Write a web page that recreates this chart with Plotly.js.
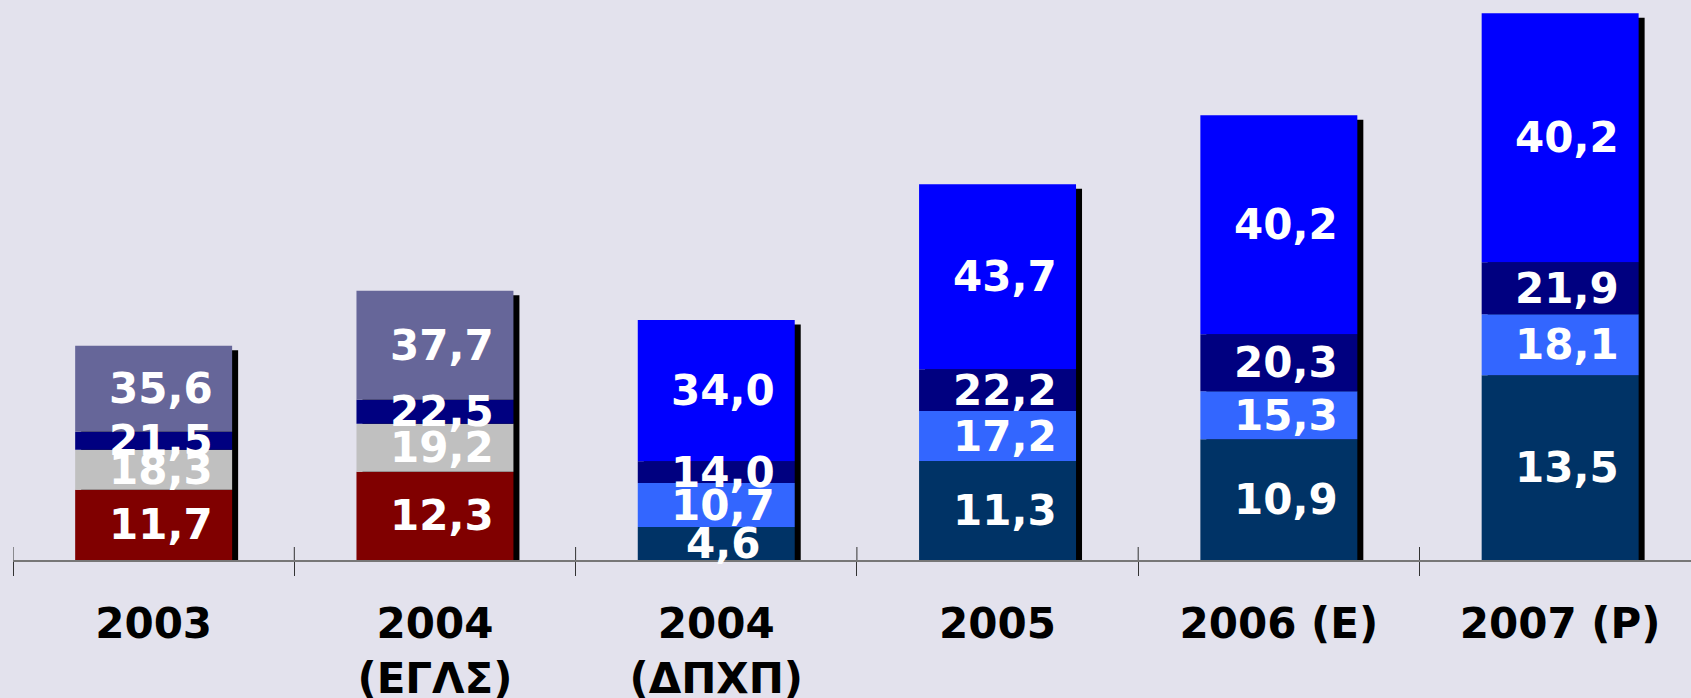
<!DOCTYPE html>
<html>
<head>
<meta charset="utf-8">
<script src="https://cdn.plot.ly/plotly-3.0.1.min.js"></script>
<style>html,body{margin:0;padding:0;background:#E3E2ED;}</style>
</head>
<body>
<div id="chart" style="width:1691px;height:698px;"></div>
<script>
// Categories (x-axis tick labels)
const categories = ["2003", "2004<br>(ΕΓΛΣ)", "2004<br>(ΔΠΧΠ)", "2005", "2006 (E)", "2007 (P)"];

// Segment heights (bottom to top)
const seg1 = [70.3, 88.3, 33.0, 99.0, 120.7, 184.7];
const seg2 = [40.0, 48.0, 44.0, 50.0, 48.0, 61.0];
const seg3 = [18.0, 24.0, 21.7, 41.7, 57.0, 52.0];
const seg4 = [86.0, 109.0, 141.3, 185.0, 219.0, 249.0];

// Labels shown on the segments
const lab1 = ["11,7", "12,3", "4,6", "11,3", "10,9", "13,5"];
const lab2 = ["18,3", "19,2", "10,7", "17,2", "15,3", "18,1"];
const lab3 = ["21,5", "22,5", "14,0", "22,2", "20,3", "21,9"];
const lab4 = ["35,6", "37,7", "34,0", "43,7", "40,2", "40,2"];

// Segment colours per bar
const col1 = ["#800000", "#800000", "#003366", "#003366", "#003366", "#003366"];
const col2 = ["#C0C0C0", "#C0C0C0", "#3366FF", "#3366FF", "#3366FF", "#3366FF"];
const col3 = ["#000080", "#000080", "#000080", "#000080", "#000080", "#000080"];
const col4 = ["#666699", "#666699", "#0000FF", "#0000FF", "#0000FF", "#0000FF"];

const segs = [seg1, seg2, seg3, seg4];
const labs = [lab1, lab2, lab3, lab4];
const cols = [col1, col2, col3, col4];

const BW = 0.558;
const catPx = 281.3;
const shadowDx = 6 / catPx;
const shadowDy = 4.5;

const totals = categories.map((c, i) => segs.reduce((s, a) => s + a[i], 0));

const traces = [];
// shadow
traces.push({
  type: "bar", x: categories, y: totals, base: categories.map(() => -shadowDy),
  width: BW, offset: -BW / 2 + shadowDx,
  marker: {color: "#000000", line: {width: 0}},
  hoverinfo: "skip", showlegend: false
});

const annotations = [];
let bases = categories.map(() => 0);
segs.forEach((s, k) => {
  traces.push({
    type: "bar", x: categories, y: s, base: bases.slice(),
    width: BW, offset: -BW / 2,
    marker: {color: cols[k], line: {width: 0}},
    hoverinfo: "skip", showlegend: false
  });
  categories.forEach((c, i) => {
    annotations.push({
      x: i, y: bases[i] + s[i] / 2, xref: "x", yref: "y",
      text: labs[k][i], showarrow: false, xshift: 7,
      font: {family: "DejaVu Sans", size: 42, color: "#FFFFFF", weight: "bold"}
    });
  });
  bases = bases.map((b, i) => b + s[i]);
});

const shapes = [];
for (let i = 0; i < categories.length; i++) {
  shapes.push({type: "line", xref: "x", yref: "y", x0: i - 0.5, x1: i - 0.5, y0: 0, y1: 13,
    line: {color: "#333333", width: 1}});
}

const layout = {
  width: 1691, height: 698,
  margin: {l: 13, r: 0, t: 0, b: 138, pad: 0},
  paper_bgcolor: "#E3E2ED", plot_bgcolor: "#E3E2ED",
  barmode: "overlay",
  showlegend: false,
  xaxis: {
    type: "category", range: [-0.5, -0.5 + 1678 / catPx],
    showline: true, linecolor: "#777777", linewidth: 2,
    ticks: "outside", ticklen: 14, tickcolor: "#333333", tickwidth: 1,
    tickson: "boundaries", showgrid: false, zeroline: false,
    ticklabelstandoff: 26,
    tickfont: {family: "DejaVu Sans", size: 42, color: "#000000", weight: "bold"}
  },
  yaxis: {range: [0, 560], visible: false, showgrid: false, zeroline: false},
  annotations: annotations,
  shapes: shapes
};

Plotly.newPlot("chart", traces, layout, {displayModeBar: false, staticPlot: true});
</script>
</body>
</html>
